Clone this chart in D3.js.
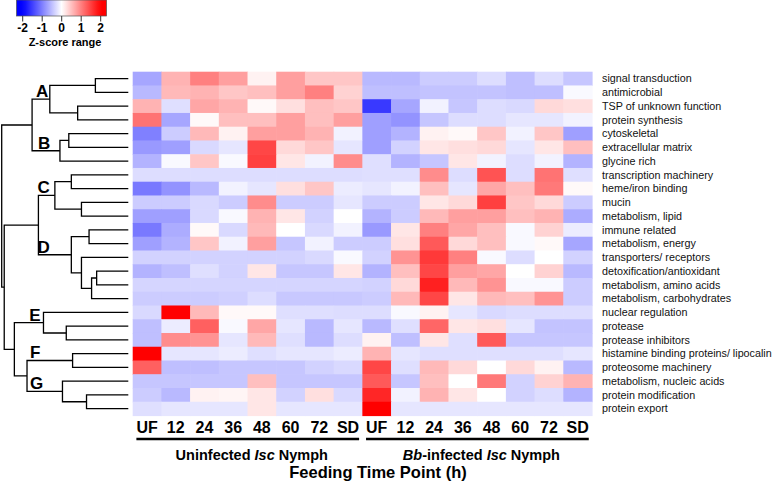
<!DOCTYPE html>
<html><head><meta charset="utf-8">
<script src="https://cdn.jsdelivr.net/npm/d3@7"></script>
<style>
body{margin:0;background:#fff}
svg{display:block}
text{font-family:"Liberation Sans",Arial,Helvetica,sans-serif}
</style>
</head><body>
<svg id="chart" width="773" height="486"></svg>
<script>
const rowLabels = [
  "signal transduction","antimicrobial","TSP of unknown function","protein synthesis",
  "cytoskeletal","extracellular matrix","glycine rich","transcription machinery",
  "heme/iron binding","mucin","metabolism, lipid","immune related","metabolism, energy",
  "transporters/ receptors","detoxification/antioxidant","metabolism, amino acids",
  "metabolism, carbohydrates","nuclear regulation","protease","protease inhibitors",
  "histamine binding proteins/ lipocalin","proteosome machinery","metabolism, nucleic acids",
  "protein modification","protein export"
];
const timePoints = ["UF","12","24","36","48","60","72","SD"];
const groupNames = ["uninfected","infected"];
const axisTitle = "Feeding Time Point (h)";
const legendTitle = "Z-score range";
const legendTicks = [-2,-1,0,1,2];

// z-scores, rows x time points
const uninfected = [
  [-0.7, 0.6, 1.0, 0.75, 0.1, 0.75, 0.45, 0.45],
  [-0.55, 0.55, 0.6, 0.45, 0.5, 0.75, 1.0, 0.35],
  [0.6, -0.25, 0.7, 0.6, 0.05, 0.25, 0.5, 0.45],
  [1.1, -0.7, 0.05, 0.5, 0.5, 0.75, 0.5, 0.75],
  [-1.0, -0.4, 0.55, 0.1, 0.75, 0.75, 0.6, -0.1],
  [-0.8, -0.75, -0.3, -0.2, 1.45, 0.3, 0.45, -0.2],
  [-0.6, -0.05, 0.45, -0.05, 1.5, 0.2, -0.1, 0.9],
  [-0.27, -0.27, -0.27, -0.27, -0.27, -0.27, -0.27, -0.27],
  [-1.05, -0.85, -0.55, -0.1, -0.2, 0.25, 0.45, -0.15],
  [-0.4, -0.4, -0.3, -0.4, 0.9, -0.4, -0.4, -0.2],
  [-0.75, -0.75, -0.3, -0.05, 0.6, 0.2, -0.35, 0],
  [-1.05, -0.65, 0.05, -0.3, 0.55, 0, -0.3, -0.1],
  [-0.75, -0.6, 0.45, -0.1, 0.75, -0.45, -0.1, -0.4],
  [-0.35, -0.35, -0.35, -0.35, -0.35, -0.35, -0.3, -0.05],
  [-0.6, -0.5, -0.25, -0.35, 0.2, -0.45, -0.45, 0.2],
  [-0.33, -0.33, -0.33, -0.33, -0.33, -0.33, -0.33, -0.33],
  [-0.4, -0.4, -0.4, -0.37, -0.27, -0.43, -0.43, -0.43],
  [-0.3, 2.0, 0.55, 0.05, 0.05, -0.25, -0.25, -0.27],
  [-0.5, -0.15, 1.25, -0.05, 0.7, -0.2, -0.55, -0.2],
  [-0.5, 0.9, 0.85, -0.2, 0.55, -0.25, -0.55, -0.27],
  [2.0, -0.2, -0.2, -0.15, -0.25, -0.2, -0.2, -0.15],
  [1.25, -0.5, -0.5, -0.45, -0.45, -0.45, -0.35, -0.3],
  [-0.45, -0.45, -0.45, -0.45, 0.5, -0.45, -0.45, -0.45],
  [-0.4, -0.55, 0.1, 0.08, 0.2, -0.35, 0.25, -0.3],
  [-0.25, -0.2, -0.2, -0.2, 0.2, -0.2, -0.2, -0.2]
];
const infected = [
  [-0.55, -0.55, -0.4, -0.4, -0.27, -0.5, -0.27, -0.45],
  [-0.5, -0.5, -0.47, -0.47, -0.47, -0.5, -0.5, -0.05],
  [-1.55, -0.7, -0.1, -0.45, -0.27, -0.3, 0.3, 0.25],
  [-0.75, -0.85, -0.45, -0.27, -0.27, -0.2, -0.2, -0.1],
  [-0.75, -0.6, 0.1, 0.05, 0.45, -0.1, 0.45, -0.75],
  [-0.75, -0.35, 0.2, 0.25, 0.3, -0.2, 0.2, 0.5],
  [-0.25, -0.6, -0.45, 0.2, -0.1, -0.27, -0.1, -0.6],
  [-0.25, -0.25, 0.9, -0.27, 1.35, -0.27, 1.1, -0.25],
  [-0.2, -0.1, 0.5, -0.2, 0.7, 0.5, 1.05, 0.05],
  [-0.4, -0.4, 0.2, 0.3, 1.5, 0.45, 0.3, -0.4],
  [-0.6, -0.4, 0.55, 0.75, 0.75, 0.5, 0.6, -0.65],
  [-0.8, 0.2, 1.0, 0.7, 0.5, -0.05, 0.35, -0.15],
  [-0.4, 0.25, 1.3, 0.3, 0.5, -0.05, 0.05, -0.7],
  [-0.35, 0.85, 1.55, 1.0, -0.05, -0.27, 0, -0.35],
  [-0.6, 0.5, 1.45, 0.75, 0.7, 0, 0.35, -0.55],
  [-0.35, 0.3, 1.75, 0.55, 0.85, -0.05, -0.05, -0.4],
  [-0.4, 0.55, 1.45, 0.2, 0.55, 0.5, 0.85, -0.4],
  [-0.27, -0.05, 0.1, -0.2, -0.3, -0.27, -0.27, -0.27],
  [-0.55, -0.25, 1.2, 0.2, 0.25, -0.2, -0.47, -0.47],
  [0.1, -0.5, 0.2, -0.25, 1.3, -0.45, -0.45, -0.45],
  [0.6, -0.2, -0.25, -0.25, -0.25, -0.25, -0.25, -0.2],
  [1.45, -0.25, 0.55, 0.3, 0, 0.3, 0.1, -0.55],
  [1.3, -0.45, 0.5, 0, 1.05, -0.35, 0.35, 0.6],
  [1.7, -0.1, 0.6, 0.2, 0, -0.35, -0.27, -0.6],
  [2.0, -0.2, -0.2, -0.2, -0.2, -0.2, -0.2, -0.2]
];

// hierarchical clustering (linkage style): [childA, childB, distance]; ids >= 25 are earlier merges
const merges = [
  [0, 1, 0.26],   // 25
  [2, 3, 0.40],   // 26
  [25, 26, 0.62], // 27 A
  [4, 5, 0.47],   // 28
  [28, 6, 0.54],  // 29 B
  [27, 29, 0.76], // 30
  [7, 8, 0.45],   // 31
  [9, 10, 0.37],  // 32
  [31, 32, 0.58], // 33 C
  [11, 12, 0.31], // 34
  [14, 15, 0.25], // 35
  [35, 16, 0.29], // 36
  [13, 36, 0.37], // 37
  [34, 37, 0.45], // 38 D
  [33, 38, 0.71], // 39
  [18, 19, 0.49], // 40
  [17, 40, 0.67], // 41 E
  [20, 21, 0.44], // 42 F
  [23, 24, 0.33], // 43
  [22, 43, 0.52], // 44 G
  [42, 44, 0.80], // 45
  [41, 45, 0.90], // 46
  [39, 46, 0.98], // 47
  [30, 47, 1.00]  // 48
];
const clusterNames = [["A",27],["B",29],["C",33],["D",38],["E",41],["F",42],["G",44]];

const svg = d3.select("#chart");
const color = d3.scaleLinear().domain([-2,0,2]).range(["#0000ff","#ffffff","#ff0000"]).clamp(true);

// ---- heatmap ----
const columns = groupNames.flatMap((g,gi)=>timePoints.map(t=>g+"-"+t));
const x = d3.scaleBand().domain(columns).range([132.7, 592]);
const y = d3.scaleBand().domain(rowLabels).range([71.7, 415.5]);
const matrices = [uninfected, infected];
const cells = [];
rowLabels.forEach((r,ri)=>{
  groupNames.forEach((g,gi)=>{
    timePoints.forEach((t,ti)=>cells.push({r, c:g+"-"+t, v:matrices[gi][ri][ti]}));
  });
});
svg.append("g").selectAll("rect").data(cells).join("rect")
  .attr("x",d=>x(d.c)).attr("y",d=>y(d.r))
  .attr("width",x.bandwidth()+0.6).attr("height",y.bandwidth()+0.6)
  .attr("fill",d=>color(d.v));

// row labels
svg.append("g").selectAll("text").data(rowLabels).join("text")
  .attr("x",602).attr("y",d=>y(d)+y.bandwidth()/2).attr("dy","0.36em")
  .attr("font-size",10.75).attr("fill","#111").text(d=>d);

// column labels
const colText = svg.append("g").selectAll("text").data(columns).join("text")
  .attr("x",d=>x(d)+x.bandwidth()/2).attr("y",432.5)
  .attr("text-anchor","middle").attr("font-size",16).attr("font-weight","bold")
  .text(d=>d.split("-")[1]);

// group underline bars (from first label to last label)
const groupInfo = [
  {g:"uninfected", parts:[["Uninfected ",false],["Isc",true],[" Nymph",false]]},
  {g:"infected", parts:[["Bb",true],["-infected ",false],["Isc",true],[" Nymph",false]]}
];
groupInfo.forEach(gr=>{
  const nodes = colText.filter(d=>d.startsWith(gr.g+"-")).nodes();
  const b0 = nodes[0].getBBox(), b1 = nodes[nodes.length-1].getBBox();
  const x0 = b0.x, x1 = b1.x + b1.width;
  svg.append("line").attr("x1",x0).attr("x2",x1).attr("y1",439).attr("y2",439)
    .attr("stroke","#000").attr("stroke-width",2.6);
  const t = svg.append("text").attr("x",(x0+x1)/2+4).attr("y",460)
    .attr("text-anchor","middle").attr("font-size",14.5).attr("font-weight","bold");
  gr.parts.forEach(([s,it])=>t.append("tspan").attr("font-style",it?"italic":null).text(s));
});
svg.append("text").attr("x",378).attr("y",478).attr("text-anchor","middle")
  .attr("font-size",16.5).attr("font-weight","bold").text(axisTitle);

// ---- dendrogram ----
const n = rowLabels.length;
const nodes = rowLabels.map((r,i)=>({id:i, h:0, y:y(r)+y.bandwidth()/2}));
merges.forEach(([a,b,h],k)=>nodes.push({id:n+k, h, children:[nodes[a],nodes[b]]}));
const root = d3.hierarchy(nodes[nodes.length-1], d=>d.children);
root.eachAfter(d=>{ if(d.children) d.data.y = d3.mean(d.children, c=>c.data.y); });
const dx = d3.scaleLinear().domain([0, d3.max(merges, m=>m[2])]).range([128.3, 1.7]);
const dend = svg.append("g").attr("fill","none").attr("stroke","#000").attr("stroke-width",1.3);
root.each(d=>{
  if(!d.children) return;
  const [c1,c2] = d.children;
  const px = dx(d.data.h);
  dend.append("path").attr("d",
    `M${dx(c1.data.h)},${c1.data.y}H${px}V${c2.data.y}H${dx(c2.data.h)}`);
});
const labelOffset = {A:4,B:6,C:-1,D:-1,E:15,F:3,G:3};
const byId = new Map(); root.each(d=>byId.set(d.data.id,d));
svg.append("g").selectAll("text").data(clusterNames).join("text")
  .attr("x",d=>dx(byId.get(d[1]).parent.data.h)+labelOffset[d[0]])
  .attr("y",d=>byId.get(d[1]).data.y-2)
  .attr("font-size",17).attr("font-weight","bold").text(d=>d[0]);

// ---- legend ----
const lx = d3.scaleLinear().domain([-2,2]).range([22.7,100.7]);
const defs = svg.append("defs");
const grad = defs.append("linearGradient").attr("id","zgrad");
const gx0 = -2.32, gx1 = 2.3;
d3.range(0,1.0001,0.05).forEach(p=>{
  const v = gx0 + p*(gx1-gx0);
  grad.append("stop").attr("offset",p).attr("stop-color",color(v));
});
svg.append("rect").attr("x",lx(gx0)).attr("y",0).attr("width",lx(gx1)-lx(gx0)).attr("height",16)
  .attr("fill","url(#zgrad)").attr("stroke","#555").attr("stroke-width",0.7);
svg.append("g").selectAll("line").data(legendTicks).join("line")
  .attr("x1",d=>lx(d)).attr("x2",d=>lx(d)).attr("y1",16).attr("y2",21.5)
  .attr("stroke","#333").attr("stroke-width",1);
svg.append("g").selectAll("text").data(legendTicks).join("text")
  .attr("x",d=>lx(d)).attr("y",32).attr("text-anchor","middle")
  .attr("font-size",12).attr("font-weight","bold").text(d=>d);
svg.append("text").attr("x",65).attr("y",46).attr("text-anchor","middle")
  .attr("font-size",11).attr("font-weight","bold").text(legendTitle);
</script>
</body></html>
